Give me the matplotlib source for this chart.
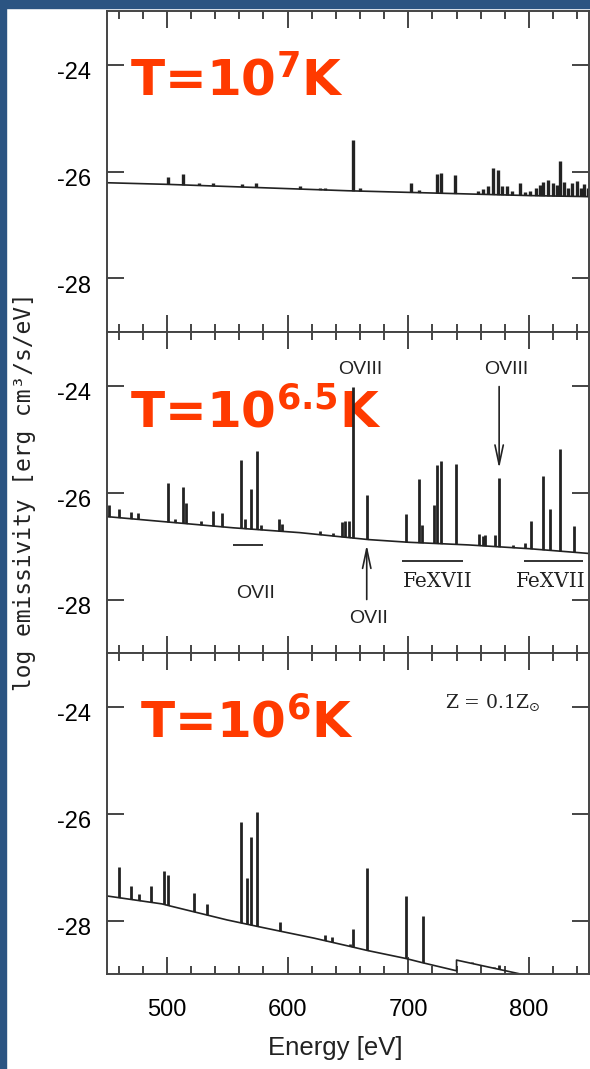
import matplotlib
matplotlib.use("Agg")
import matplotlib.pyplot as plt
import matplotlib.transforms as mtransforms
from matplotlib.patches import Rectangle
from matplotlib.ticker import MultipleLocator

# T = 10^7 K : continuum and line peaks (energy in eV, log emissivity)
cont7_E = [450, 500, 550, 600, 650, 700, 750, 800, 850]
cont7_v = [-26.21, -26.24, -26.28, -26.32, -26.36, -26.39, -26.42, -26.45, -26.47]
lines7_E = [501, 513, 527, 538, 562, 574, 610, 627, 631, 654, 660, 702, 709,
            723.5, 727.5, 739, 758, 762, 766, 770, 774.5, 778, 782, 786, 792.5,
            797, 801, 806, 809, 812, 816, 820, 823, 826, 829, 832, 835.5, 840,
            843, 846, 849]
lines7_v = [-26.11, -26.05, -26.21, -26.22, -26.24, -26.21, -26.27, -26.30, -26.30,
            -25.41, -26.30, -26.21, -26.34, -26.04, -26.03, -26.07, -26.36, -26.32,
            -26.28, -25.94, -25.98, -26.28, -26.27, -26.36, -26.21, -26.38, -26.36,
            -26.30, -26.25, -26.20, -26.16, -26.22, -26.26, -25.80, -26.20, -26.30,
            -26.22, -26.18, -26.30, -26.24, -26.30]

# T = 10^6.5 K
cont65_E = [450, 500, 555, 610, 667, 700, 750, 800, 850]
cont65_v = [-26.45, -26.55, -26.66, -26.75, -26.88, -26.93, -26.98, -27.05, -27.14]
lines65_E = [452, 460, 470, 476, 501.2, 507, 513, 516, 528, 538, 545.5, 561.5,
             565, 569.5, 574.7, 578, 593, 595, 627, 638, 645, 648, 651, 654.5,
             666.2, 698, 709.2, 711.5, 721.4, 724.2, 727, 739.4, 759, 762, 764,
             771.6, 775.5, 787, 797, 801.8, 812, 817.5, 825.8, 837.4]
lines65_v = [-26.23, -26.30, -26.36, -26.38, -25.82, -26.50, -25.89, -26.20, -26.53,
             -26.35, -26.38, -25.39, -26.50, -25.93, -25.22, -26.60, -26.50, -26.58,
             -26.72, -26.76, -26.55, -26.54, -26.54, -24.02, -26.05, -26.41, -25.75,
             -26.60, -26.23, -25.49, -25.41, -25.47, -26.78, -26.82, -26.80, -26.80,
             -25.73, -26.98, -26.94, -26.53, -25.70, -26.31, -25.19, -26.62]

# T = 10^6 K
cont6_E = [450, 496, 503, 550, 577, 594, 622, 649, 666, 698, 712, 740, 740, 797, 850]
cont6_v = [-27.54, -27.69, -27.73, -27.99, -28.12, -28.20, -28.33, -28.47, -28.56,
           -28.71, -28.79, -28.94, -28.74, -29.02, -29.28]
lines6_E = [460.4, 470, 477.2, 486.6, 497.9, 501.2, 522.3, 533, 561.7, 566, 569.5,
            574.5, 593.8, 631, 637, 652, 654, 666.2, 698.2, 712.5, 753, 771, 775.5]
lines6_v = [-27.00, -27.36, -27.50, -27.36, -27.07, -27.15, -27.49, -27.69, -26.15,
            -27.20, -26.44, -25.97, -28.02, -28.28, -28.30, -28.43, -28.16, -27.01,
            -27.54, -27.91, -28.77, -28.86, -28.84]

ink = "#222222"
frame = "#444444"
red = "#ff3a00"
plt.rcParams["font.family"] = ["Liberation Sans", "DejaVu Sans"]
plt.rcParams["axes.unicode_minus"] = False

fig = plt.figure(figsize=(5.9, 10.69), dpi=100)
left, width = 106.5 / 590, (589.3 - 106.5) / 590
height = 321 / 1069
bottoms = [1 - 332 / 1069, 1 - 653 / 1069, 1 - 974 / 1069]
axes = [fig.add_axes([left, b, width, height]) for b in bottoms]

spectra = [
    (cont7_E, cont7_v, lines7_E, lines7_v, 2.4),
    (cont65_E, cont65_v, lines65_E, lines65_v, 2.0),
    (cont6_E, cont6_v, lines6_E, lines6_v, 2.0),
]
titles = [
    ("T=10$^{\\mathbf{7}}$K", 469.5, -24.59),
    ("T=10$^{\\mathbf{6.5}}$K", 469.5, -24.78),
    ("T=10$^{\\mathbf{6}}$K", 477.8, -24.57),
]

for i, ax in enumerate(axes):
    cE, cv, lE, lv, lw = spectra[i]
    # spikes go down below the continuum; a white fill hides the lower part
    ax.vlines(lE, -30, lv, color=ink, lw=lw, zorder=1.2)
    ax.fill_between(cE, cv, -30, color="white", lw=0, zorder=1.4)
    ax.plot(cE, cv, color=ink, lw=1.2, zorder=1.6)

    ax.set_xlim(450, 850)
    ax.set_ylim(-29, -23)
    ax.set_yticks([-28, -26, -24])
    ax.xaxis.set_major_locator(MultipleLocator(100))
    ax.xaxis.set_minor_locator(MultipleLocator(20))
    ax.tick_params(which="both", direction="in", top=True, right=True,
                   width=1.4, color=frame)
    ax.tick_params(which="major", length=12.5)
    ax.tick_params(which="minor", length=6)
    ax.tick_params(axis="y", labelsize=17, pad=11)
    ax.tick_params(axis="x", labelsize=17, pad=18, labelbottom=(i == 2))
    for s in ax.spines.values():
        s.set_linewidth(1.4)
        s.set_color(frame)

    # title sits under the spectrum (the OVIII spike runs over the K)
    txt, tx, ty = titles[i]
    ax.text(tx, ty, txt, fontsize=36, fontweight="bold", family="DejaVu Sans",
            color=red, va="baseline", ha="left", zorder=1.0)

    # labels sit a little below their ticks in the original
    off = mtransforms.ScaledTranslation(0, -0.06, fig.dpi_scale_trans)
    for lab in ax.get_yticklabels():
        lab.set_transform(lab.get_transform() + off)

# line identifications, middle panel
ax = axes[1]
arrow = dict(arrowstyle="->,head_length=1.4,head_width=0.3", color=ink, lw=1.2,
             shrinkA=0, shrinkB=0, mutation_scale=10)
ax.text(660, -23.71, "OVIII", fontsize=14, ha="center", va="center", color=ink, zorder=5)
ax.text(781, -23.71, "OVIII", fontsize=14, ha="center", va="center", color=ink, zorder=5)
ax.annotate("", xy=(775.3, -25.55), xytext=(775.3, -24.02), arrowprops=arrow, zorder=5)
ax.hlines(-26.99, 555, 580, color=ink, lw=1.3, zorder=5)
ax.text(573.7, -27.88, "OVII", fontsize=14, ha="center", va="center", color=ink, zorder=5)
ax.annotate("", xy=(665.6, -26.98), xytext=(665.6, -28.0), arrowprops=arrow, zorder=5)
ax.text(667.5, -28.36, "OVII", fontsize=14, ha="center", va="center", color=ink, zorder=5)
ax.hlines([-27.28, -27.28], [695, 796], [745.7, 845], color=ink, lw=1.3, zorder=5)
for fx in (724.7, 818.3):
    ax.text(fx, -27.67, "FeXVII", fontsize=14.5, family="DejaVu Serif", ha="center",
            va="center", color=ink, zorder=5)

axes[2].text(730.4, -24.03, "Z = 0.1Z$_{\\odot}$", fontsize=13.5, family="DejaVu Serif",
             ha="left", va="baseline", color=ink, zorder=5)

fig.text(335.7 / 590, 1 - 1055 / 1069, "Energy [eV]", fontsize=18.5, ha="center",
         va="baseline", color=ink)
fig.text(25 / 590, 1 - 492 / 1069, "log emissivity [erg cm³/s/eV]", fontsize=16.5,
         family="DejaVu Sans Mono", rotation=90, ha="center", va="center", color=ink)

# dark blue slide border on the left and top
fig.add_artist(Rectangle((0, 0), 6 / 590, 1, transform=fig.transFigure,
                         color="#2b5482", zorder=10))
fig.add_artist(Rectangle((0, 1 - 8 / 1069), 1, 8 / 1069, transform=fig.transFigure,
                         color="#2b5482", zorder=10))

fig.savefig("out.png", dpi=100)
